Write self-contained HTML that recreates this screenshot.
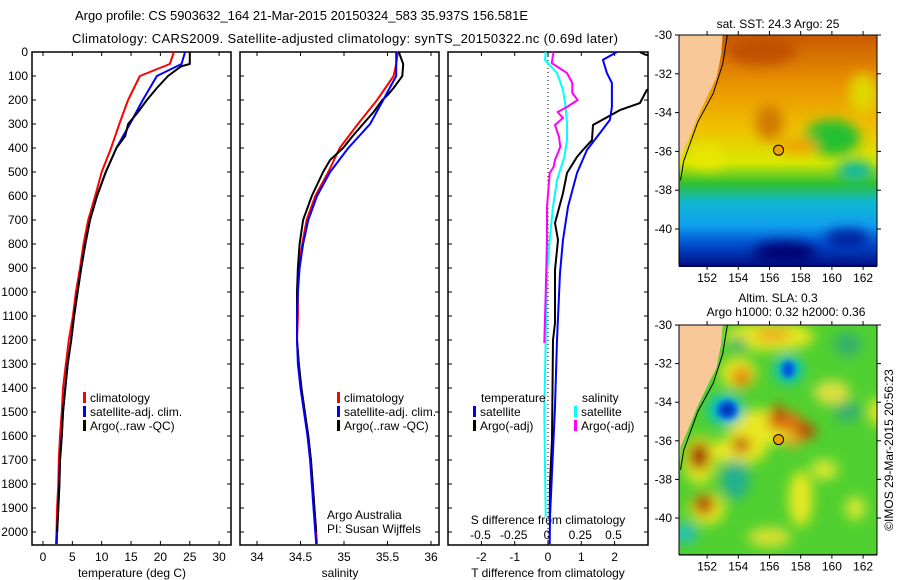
<!DOCTYPE html>
<html><head><meta charset="utf-8"><style>
body{margin:0;background:#fff;}
svg{display:block;font-family:"Liberation Sans",sans-serif;}
text{font-size:12px;fill:#000;}
</style></head><body>
<svg id="fig" width="900" height="580" viewBox="0 0 900 580" xmlns="http://www.w3.org/2000/svg">
<defs>
<filter id="blur6" x="-50%" y="-50%" width="200%" height="200%"><feGaussianBlur stdDeviation="6"/></filter>
<filter id="blur3" x="-50%" y="-50%" width="200%" height="200%"><feGaussianBlur stdDeviation="3"/></filter>
<clipPath id="clip1"><rect x="32" y="52" width="199" height="493"/></clipPath>
<clipPath id="clip2"><rect x="240" y="52" width="199" height="493"/></clipPath>
<clipPath id="clip3"><rect x="448" y="52" width="200" height="493"/></clipPath>
<clipPath id="clipM1"><rect x="679" y="35" width="198" height="232"/></clipPath>
<clipPath id="clipM2"><rect x="679" y="325" width="198" height="231"/></clipPath>
<linearGradient id="sstGrad" x1="0" y1="0" x2="0" y2="1">
<stop offset="0" stop-color="#c85a00"/><stop offset="0.2" stop-color="#e89000"/><stop offset="0.4" stop-color="#f0c000"/>
<stop offset="0.55" stop-color="#d8e800"/><stop offset="0.64" stop-color="#30c030"/><stop offset="0.72" stop-color="#10b8d0"/>
<stop offset="0.82" stop-color="#10a0f0"/><stop offset="0.9" stop-color="#0050d0"/><stop offset="1" stop-color="#000a80"/>
</linearGradient>
</defs>

<text x="75" y="20" textLength="453" style="font-size:13px">Argo profile: CS 5903632_164 21-Mar-2015 20150324_583 35.937S 156.581E</text>
<text x="72" y="43" textLength="546" style="font-size:13px">Climatology: CARS2009. Satellite-adjusted climatology: synTS_20150322.nc (0.69d later)</text>

<g id="panels"></g>
<g id="maps"></g>
</svg>
<script>
// ---- data ----
const depthTicks = [0,100,200,300,400,500,600,700,800,900,1000,1100,1200,1300,1400,1500,1600,1700,1800,1900,2000];
const tempTicks = [0,5,10,15,20,25,30];
const salTicks = [34,34.5,35,35.5,36];
const salTickLabels = ["34","34.5","35","35.5","36"];
const tdTicks = [-2,-1,0,1,2];
const sdTicks = [-0.5,-0.25,0,0.25,0.5];
const sdTickLabels = ["-0.5","-0.25","0","0.25","0.5"];

const depthT = [0,50,100,200,300,400,500,600,700,800,900,1000,1100,1200,1300,1400,1500,1600,1700,1800,1900,2000,2050];
const tempClim = [22.3,21.6,16.5,14.5,13,11.6,10,8.9,7.7,6.9,6.3,5.6,5.1,4.4,3.9,3.4,3.2,2.9,2.7,2.6,2.4,2.3,2.2];
const tempSat  = [24.2,23.6,19.4,17,14.8,12.5,10.7,9.2,8,7.2,6.5,5.9,5.3,4.8,4.2,3.8,3.4,3.2,2.9,2.8,2.6,2.4,2.35];
const depthArgo = [0,50,60,100,150,200,250,300,350,400,500,600,700,800,900,1000,1100,1200,1300,1400,1500,1600,1700,1800,1900,2000];
const tempArgo = [25,25,23.5,21.3,19.4,17.7,16.2,14.5,14,12.5,10.7,9.2,8,7.2,6.5,5.9,5.3,4.8,4.2,3.8,3.4,3.2,2.9,2.8,2.6,2.4];

const salClim = [35.62,35.6,35.57,35.38,35.16,34.95,34.82,34.67,34.57,34.52,34.48,34.47,34.47,34.46,34.48,34.51,34.55,34.59,34.62,34.64,34.66,34.68,34.69];
const salSat  = [35.6,35.6,35.6,35.45,35.3,35.05,34.84,34.69,34.59,34.53,34.49,34.47,34.46,34.46,34.47,34.5,34.54,34.58,34.61,34.63,34.65,34.67,34.68];
const depthSA = [0,50,100,130,150,180,200,250,300,350,400,450,500,600,700,800,900,1000,1100,1200,1300,1400,1500,1600,1700,1800,1900,2000];
const salArgo = [35.63,35.68,35.67,35.61,35.57,35.5,35.44,35.34,35.22,35.1,34.99,34.84,34.76,34.63,34.53,34.49,34.47,34.46,34.46,34.46,34.48,34.51,34.55,34.59,34.62,34.64,34.66,34.68];

const depthTDsat = [0,33,88,129,229,283,338,408,504,645,783,921,1200,1479,1754,1937,2050];
const tdSat = [2.07,1.65,1.77,1.92,1.92,1.86,1.56,1.17,0.87,0.6,0.45,0.36,0.27,0.21,0.12,0.06,0.05];
const depthTDargo = [0,10,30,150,158,213,242,304,367,408,437,504,588,713,783,908,1129,1200,1617,1796,1950];
const tdArgo = [2.76,2.9,3.5,3.5,2.97,2.76,2.16,1.35,1.32,1.05,0.87,0.57,0.45,0.21,0.3,0.21,0.21,0.15,0.12,0.06,0.05];
const depthSDsat = [0,33,88,158,229,296,367,437,533,645,783,921,1200,1500,1937];
const sdSat = [-0.01,-0.015,0.075,0.12,0.14,0.15,0.15,0.13,0.075,0.045,0.02,0,-0.01,-0.02,-0.01];
const depthSDargo = [0,46,88,129,171,200,229,250,275,304,354,396,450,479,504,645,783,1004,1213];
const sdArgo = [0.05,0.035,0.15,0.19,0.19,0.23,0.15,0.08,0.12,0.06,0.09,0.1,0.06,0.05,0.02,0,0,-0.01,-0.02];

// ---- axes ----
const Y0=52, Y1=545;
const yDepth = d => Y0 + d*0.24;
const xTemp = t => 43 + t*5.87;
const xSal = s => 257 + (s-34)*87;
const xTD = t => 548 + t*33.3;
const xSD = s => 547 + s*133;

const NS='http://www.w3.org/2000/svg';
const fig=document.getElementById('fig');
const panels=document.getElementById('panels');
function mk(tag, attrs, parent, txt){
  const e=document.createElementNS(NS,tag);
  for(const k in attrs) e.setAttribute(k,attrs[k]);
  if(txt!==undefined) e.textContent=txt;
  (parent||panels).appendChild(e);
  return e;
}

const panelDefs=[{x:32,name:'temperature-panel'},{x:240,name:'salinity-panel'},{x:448,name:'difference-panel',w:200}];
panelDefs.forEach(p=>{
  const r=mk('rect',{x:p.x,y:Y0,width:p.w||199,height:Y1-Y0,fill:'none',stroke:'#000','stroke-width':1.5});
  
  
  depthTicks.forEach(d=>{
    const y=yDepth(d);
    mk('line',{x1:p.x,x2:p.x+4,y1:y,y2:y,stroke:'#000'});
    mk('line',{x1:p.x+(p.w||199)-4,x2:p.x+(p.w||199),y1:y,y2:y,stroke:'#000'});
  });
});
depthTicks.forEach(d=>{
  const t=mk('text',{x:28,y:yDepth(d)+4,'text-anchor':'end'},panels,String(d));
  
  
});
function xTicks(vals,labels,fx,ly,clsname){
  vals.forEach((v,i)=>{
    const x=fx(v);
    mk('line',{x1:x,x2:x,y1:Y0,y2:Y0+4,stroke:'#000'});
    mk('line',{x1:x,x2:x,y1:Y1-4,y2:Y1,stroke:'#000'});
    const t=mk('text',{x:x,y:ly,'text-anchor':'middle'},panels,labels[i]);
    
    
  });
}
xTicks(tempTicks,tempTicks.map(String),xTemp,561,'temperature-tick-label');
xTicks(salTicks,salTickLabels,xSal,561,'salinity-tick-label');
xTicks(tdTicks,tdTicks.map(String),xTD,561,'t-diff-tick-label');
sdTicks.forEach((v,i)=>{
  const t=mk('text',{x:xSD(v),y:539,'text-anchor':'middle'},panels,sdTickLabels[i]);
  
  
});
[['temperature (deg C)',132,'temperature-axis-title'],['salinity',340,'salinity-axis-title'],['T difference from climatology',548,'t-diff-axis-title']].forEach(a=>{
  const t=mk('text',{x:a[1],y:577,'text-anchor':'middle'},panels,a[0]);
  
  
});
const st=mk('text',{x:548,y:524,'text-anchor':'middle'},panels,'S difference from climatology');



const zl=mk('line',{x1:xTD(0),x2:xTD(0),y1:Y0,y2:Y1,stroke:'#000','stroke-dasharray':'1,3'});



function series(xs,ds,fx,color,clip,name,w){
  const pts=xs.map((v,i)=>fx(v).toFixed(1)+','+yDepth(ds[i]).toFixed(1)).join(' ');
  const l=mk('polyline',{points:pts,fill:'none',stroke:color,'stroke-width':w||2,'clip-path':'url(#'+clip+')','stroke-linejoin':'round'});
  
  
}
series(tempClim,depthT,xTemp,'#f00','clip1','temp-climatology-line');
series(tempSat,depthT,xTemp,'#00f','clip1','temp-satellite-line');
series(tempArgo,depthArgo,xTemp,'#000','clip1','temp-argo-line');
series(salClim,depthT,xSal,'#f00','clip2','sal-climatology-line');
series(salArgo,depthSA,xSal,'#000','clip2','sal-argo-line');
series(salSat,depthT,xSal,'#00f','clip2','sal-satellite-line');
series(sdSat,depthSDsat,xSD,'#0ff','clip3','s-diff-satellite-line');
series(sdArgo,depthSDargo,xSD,'#f0f','clip3','s-diff-argo-line');
series(tdArgo,depthTDargo,xTD,'#000','clip3','t-diff-argo-line');
series(tdSat,depthTDsat,xTD,'#00f','clip3','t-diff-satellite-line');

function legend(x,y,color,label,name){
  mk('rect',{x:x,y:y-10,width:3,height:11,fill:color});
  const t=mk('text',{x:x+7,y:y},panels,label);
  
  
}
[[83,'temp'],[337,'sal']].forEach(l=>{
  legend(l[0],402,'#f00','climatology',l[1]+'-legend-climatology');
  legend(l[0],416,'#00f','satellite-adj. clim.',l[1]+'-legend-satellite');
  legend(l[0],430,'#000','Argo(..raw -QC)',l[1]+'-legend-argo');
});
let t1=mk('text',{x:481,y:402},panels,'temperature');
let t2=mk('text',{x:582,y:402},panels,'salinity');
legend(473,416,'#00f','satellite','legend-t-satellite');
legend(473,430,'#000','Argo(-adj)','legend-t-argo');
legend(574,416,'#0ff','satellite','legend-s-satellite');
legend(574,430,'#f0f','Argo(-adj)','legend-s-argo');
let c1=mk('text',{x:327,y:519},panels,'Argo Australia');
let c2=mk('text',{x:327,y:533},panels,'PI: Susan Wijffels');

// ---- maps ----
const maps=document.getElementById('maps');
const mapLons=[152,154,156,158,160,162];
const mapLats=[-30,-32,-34,-36,-38,-40];
const lonX = lo => 679 + (lo-150.2)*15.6;
const latY1 = la => 35 + (-30-la)*19.4;
const latY2 = la => 325 + (-30-la)*19.3;
const floatLon=156.581, floatLat=-35.937;

function mapFrame(y0,latY,name){
  const g=mk('g',{},maps);
  
  
  mk('rect',{x:679,y:y0,width:198,height:latY(-41.9)-y0,fill:'none',stroke:'#000'},g);
  const yb=latY(-41.9);
  mapLons.forEach(lo=>{
    const x=lonX(lo);
    mk('line',{x1:x,x2:x,y1:y0-4,y2:y0,stroke:'#000'},g);
    mk('line',{x1:x,x2:x,y1:yb,y2:yb+4,stroke:'#000'},g);
    mk('text',{x:x,y:yb+16,'text-anchor':'middle'},g,String(lo));
  });
  mapLats.forEach(la=>{
    const y=latY(la);
    mk('line',{x1:675,x2:679,y1:y,y2:y,stroke:'#000'},g);
    mk('line',{x1:877,x2:881,y1:y,y2:y,stroke:'#000'},g);
    mk('text',{x:672,y:y+4,'text-anchor':'end'},g,String(la));
  });
}
function land(g,latY){
  const pts=[[150.2,-30],[153.0,-30],[152.9,-31],[152.6,-32.2],[152.0,-33.2],[151.4,-34.2],[150.9,-35.2],[150.3,-36.3],[150.2,-37.5]];
  mk('polygon',{points:pts.map(p=>lonX(p[0])+','+latY(p[1])).join(' '),fill:'#f8c898'},g);
  const shelf=[[153.3,-30],[153.0,-31.5],[152.4,-33],[151.4,-34.5],[150.5,-36.5],[150.3,-37.5]];
  mk('polyline',{points:shelf.map(p=>lonX(p[0])+','+latY(p[1])).join(' '),fill:'none',stroke:'#000'},g);
}

const g1=mk('g',{'clip-path':'url(#clipM1)'},maps);


mk('rect',{x:679,y:35,width:198,height:232,fill:'url(#sstGrad)'},g1);
const gb1=mk('g',{filter:'url(#blur6)'},g1);
mk('ellipse',{cx:lonX(155.5),cy:latY1(-30.8),rx:35,ry:14,fill:'#c05000'},gb1);
mk('ellipse',{cx:lonX(156),cy:latY1(-34.5),rx:14,ry:18,fill:'#d07a00'},gb1);
mk('ellipse',{cx:lonX(160),cy:latY1(-35.3),rx:28,ry:18,fill:'#20c030'},gb1);
mk('ellipse',{cx:lonX(161.5),cy:latY1(-37),rx:18,ry:10,fill:'#10b8a0'},gb1);
mk('ellipse',{cx:lonX(157.8),cy:latY1(-35.7),rx:20,ry:8,fill:'#f0a000'},gb1);
mk('ellipse',{cx:lonX(152),cy:latY1(-36.3),rx:18,ry:12,fill:'#e8e800'},gb1);
mk('ellipse',{cx:lonX(162),cy:latY1(-33),rx:14,ry:20,fill:'#e0d800'},gb1);
mk('ellipse',{cx:lonX(157),cy:latY1(-41.2),rx:32,ry:10,fill:'#000070'},gb1);
mk('ellipse',{cx:lonX(161),cy:latY1(-40.5),rx:22,ry:10,fill:'#0020a0'},gb1);
land(g1,latY1);
mapFrame(35,latY1,'sst-map');
const mt1=mk('text',{x:778,y:28,'text-anchor':'middle'},maps,'sat. SST: 24.3 Argo: 25');

const fp1=mk('circle',{cx:lonX(floatLon),cy:latY1(floatLat),r:5,fill:'#f0a000',stroke:'#000'},maps);


const g2=mk('g',{'clip-path':'url(#clipM2)'},maps);


mk('rect',{x:679,y:325,width:198,height:231,fill:'#50d030'},g2);
const gb2=mk('g',{filter:'url(#blur6)'},g2);
[[156,-30.6,45,14,'#e8e820'],[155.5,-35.3,34,18,'#e8e820'],[154,-36.5,28,14,'#e8e820'],[151.5,-37,16,24,'#e8e820'],[152,-39.5,18,16,'#e8e820'],[158,-39,12,28,'#e8e820'],[160,-33.5,18,12,'#e0e040'],[163,-34.5,10,14,'#e8e820'],[154,-32.5,18,16,'#e8e820'],[156,-41,22,10,'#d8e030'],[159.5,-37.5,14,10,'#d8e830'],[161.5,-39.5,10,12,'#d8e830'],
 [156.2,-30.5,18,6,'#f0a020'],[154.2,-32.7,10,10,'#e08010'],[157,-35,18,10,'#e07010'],[158.3,-35.5,10,8,'#c04000'],[156.5,-34.6,6,10,'#c04000'],[154.2,-36.2,9,8,'#c04000'],[151.5,-36.8,10,14,'#a01000'],[151.8,-39.3,10,10,'#b02000'],[157.5,-36,10,6,'#f0a020'],
 [153.2,-34.4,18,16,'#00c0d0'],[157.2,-32.3,14,14,'#00c0d0'],[153.8,-38,14,20,'#20b090'],[154,-31,8,8,'#30b070'],[161,-31,14,12,'#30b070'],[150.6,-40.8,12,10,'#20c0c0'],[161,-34.5,14,10,'#30b070']]
 .forEach(b=>mk('ellipse',{cx:lonX(b[0]),cy:latY2(b[1]),rx:b[2],ry:b[3],fill:b[4]},gb2));
const gb3=mk('g',{filter:'url(#blur3)'},g2);
mk('ellipse',{cx:lonX(153.3),cy:latY2(-34.4),rx:10,ry:9,fill:'#0050e0'},gb3);
mk('ellipse',{cx:lonX(157.2),cy:latY2(-32.3),rx:6,ry:8,fill:'#0050e0'},gb3);
mk('ellipse',{cx:lonX(153.3),cy:latY2(-34.4),rx:4,ry:4,fill:'#002090'},gb3);
land(g2,latY2);
mapFrame(325,latY2,'sla-map');
const mt2=mk('text',{x:778,y:302,'text-anchor':'middle'},maps,'Altim. SLA: 0.3');

const mt3=mk('text',{x:786,y:316,'text-anchor':'middle'},maps,'Argo h1000: 0.32 h2000: 0.36');

const fp2=mk('circle',{cx:lonX(floatLon),cy:latY2(floatLat),r:5,fill:'#f0a000',stroke:'#000'},maps);

const ts=mk('text',{x:0,y:0,'text-anchor':'middle',transform:'translate(893,450) rotate(-90)'},maps,'©IMOS 29-Mar-2015 20:56:23');

</script>
</body></html>
